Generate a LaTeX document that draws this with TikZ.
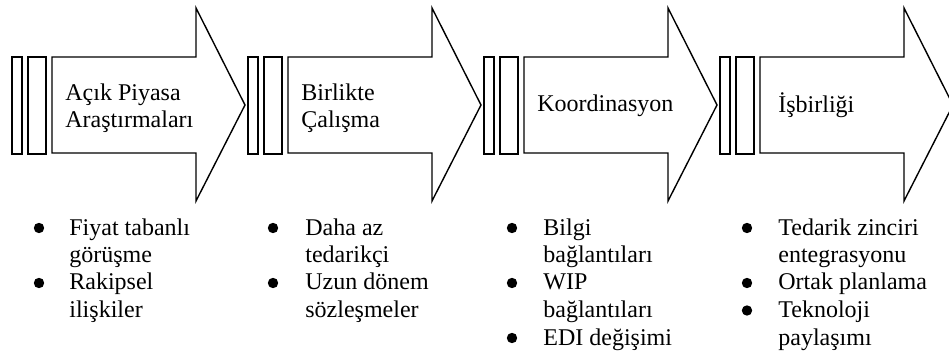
\documentclass[tikz,border=0pt]{standalone}
\usepackage{fontspec}
\setmainfont{Liberation Serif}
\begin{document}
\begin{tikzpicture}[x=0.5pt,y=-0.5pt,
  shapeline/.style={draw=black, line width=0.7pt, line join=miter, fill=white},
  txt/.style={anchor=base west, inner sep=0pt, font=\fontsize{12}{13.8}\selectfont},
  bul/.style={circle, fill=black, inner sep=0pt, minimum size=5.2pt}]
\useasboundingbox (0,0) rectangle (949,358);

% four stage arrows, each led by two narrow bars
\foreach \bx/\nm in {52/a,288/b,524/c,760/d} {
  \draw[shapeline] (\bx-40,57) rectangle (\bx-30,154);
  \draw[shapeline] (\bx-24,57) rectangle (\bx-6,154);
  \draw[shapeline] (\bx,57) -- (\bx+144,57) -- (\bx+144,8) -- (\bx+193,105)
        -- (\bx+144,201) -- (\bx+144,153) -- (\bx,153) -- cycle;
  \coordinate (stage-\nm) at (\bx,105);
}

% stage titles
\node[txt] (t1a) at (65,101) {Açık Piyasa};
\node[txt] (t1b) at (65,128) {Araştırmaları};
\node[txt] (t2a) at (301,101) {Birlikte};
\node[txt] (t2b) at (301,128) {Çalışma};
\node[txt] (t3)  at (537,112) {Koordinasyon};
\node[txt] (t4)  at (778,113) {İşbirliği};

% bullet lists below the arrows
\node[bul] (b1a) at (39,228) {};
\node[txt] (l1a) at (69,235) {Fiyat tabanlı};
\node[txt] (l1b) at (69,262.5) {görüşme};
\node[bul] (b1b) at (39,283) {};
\node[txt] (l1c) at (69,290) {Rakipsel};
\node[txt] (l1d) at (69,317.5) {ilişkiler};

\node[bul] (b2a) at (273,228) {};
\node[txt] (l2a) at (305,235) {Daha az};
\node[txt] (l2b) at (305,262.5) {tedarikçi};
\node[bul] (b2b) at (273,283) {};
\node[txt] (l2c) at (305,290) {Uzun dönem};
\node[txt] (l2d) at (305,317.5) {sözleşmeler};

\node[bul] (b3a) at (512,228) {};
\node[txt] (l3a) at (543,235) {Bilgi};
\node[txt] (l3b) at (543,262.5) {bağlantıları};
\node[bul] (b3b) at (512,283) {};
\node[txt] (l3c) at (543,290) {WIP};
\node[txt] (l3d) at (543,317.5) {bağlantıları};
\node[bul] (b3c) at (512,338) {};
\node[txt] (l3e) at (543,345) {EDI değişimi};

\node[bul] (b4a) at (747,228) {};
\node[txt] (l4a) at (778,235) {Tedarik zinciri};
\node[txt] (l4b) at (778,262.5) {entegrasyonu};
\node[bul] (b4b) at (747,283) {};
\node[txt] (l4c) at (778,290) {Ortak planlama};
\node[bul] (b4c) at (747,310.5) {};
\node[txt] (l4d) at (778,317.5) {Teknoloji};
\node[txt] (l4e) at (778,345) {paylaşımı};
\end{tikzpicture}
\end{document}
